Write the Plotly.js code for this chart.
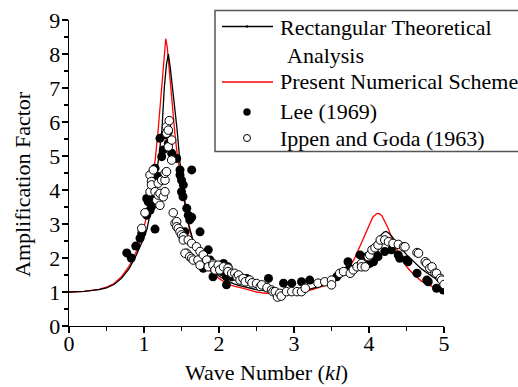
<!DOCTYPE html>
<html>
<head>
<meta charset="utf-8">
<script src="https://cdn.plot.ly/plotly-3.0.1.min.js"></script>
<style>html,body{margin:0;padding:0;background:#fff;overflow:hidden}</style>
</head>
<body>
<div id="chart" style="width:518px;height:387px"></div>
<script>
// ---- Data ----
const theoryX = [0,0.2,0.4,0.5,0.6,0.7,0.8,0.9,1.0,1.04,1.1,1.15,1.2,1.24,1.27,1.3,1.325,1.35,1.38,1.41,1.44,1.48,1.52,1.56,1.6,1.65,1.7,1.8,1.9,2.0,2.1,2.2,2.3,2.4,2.5,2.6,2.7,2.8,2.9,3.0,3.1,3.2,3.3,3.4,3.5,3.6,3.7,3.8,3.9,4.0,4.1,4.15,4.2,4.23,4.27,4.3,4.35,4.4,4.5,4.6,4.7,4.8,4.9,5.0];
const theoryY = [1.0,1.02,1.07,1.12,1.22,1.4,1.68,2.1,2.6,2.85,3.5,4.2,5.0,5.8,7.0,7.7,8.0,7.6,7.0,6.5,5.8,4.8,4.0,3.4,2.95,2.55,2.25,1.9,1.65,1.47,1.34,1.24,1.17,1.11,1.07,1.04,1.02,1.01,1.01,1.02,1.05,1.08,1.13,1.2,1.29,1.4,1.55,1.75,1.98,2.22,2.5,2.65,2.76,2.78,2.72,2.65,2.5,2.35,2.1,1.88,1.68,1.52,1.38,1.22];

const numX = [0,0.2,0.4,0.5,0.6,0.7,0.8,0.9,0.95,1.0,1.05,1.1,1.15,1.19,1.23,1.26,1.29,1.31,1.34,1.37,1.41,1.44,1.5,1.55,1.6,1.65,1.7,1.8,1.9,2.0,2.1,2.2,2.3,2.4,2.5,2.6,2.7,2.8,2.9,3.0,3.1,3.2,3.3,3.4,3.5,3.6,3.7,3.8,3.85,3.9,3.95,4.0,4.05,4.1,4.13,4.17,4.2,4.25,4.3,4.35,4.4,4.5,4.6,4.7,4.8,4.9,5.0];
const numY = [1.0,1.02,1.08,1.14,1.25,1.45,1.75,2.2,2.5,2.9,3.4,4.1,4.9,5.8,6.8,7.7,8.45,8.2,7.4,6.6,5.7,5.1,4.2,3.5,2.9,2.5,2.2,1.82,1.58,1.4,1.25,1.17,1.12,1.05,1.0,0.97,0.94,0.92,0.93,0.95,0.99,1.04,1.1,1.18,1.28,1.42,1.62,1.95,2.2,2.45,2.75,3.0,3.2,3.3,3.31,3.25,3.12,2.9,2.62,2.35,2.1,1.75,1.5,1.32,1.2,1.1,1.03];

const leeX = [0.77,0.83,0.89,0.947,0.97,1.036,1.036,1.057,1.08,1.10,1.08,1.147,1.147,1.17,1.19,1.213,1.236,1.257,1.28,1.324,1.324,1.369,1.436,1.48,1.48,1.50,1.524,1.50,1.52,1.57,1.59,1.61,1.636,1.636,1.547,1.747,1.857,1.88,1.90,1.79,1.92,2.04,2.06,2.12,2.10,2.17,2.10,2.37,2.66,2.86,2.97,3.10,3.21,3.57,3.72,3.74,3.88,3.97,4.01,4.06,4.10,4.12,4.21,4.30,4.39,4.41,4.50,4.52,4.64,4.77,4.79,4.90,4.99];
const leeY = [2.15,2.0,2.35,2.58,2.73,3.26,3.75,3.65,3.4,3.51,3.8,2.85,4.64,4.3,4.4,5.52,4.98,5.18,5.62,5.37,5.71,5.08,4.93,4.59,4.44,4.29,4.15,3.95,3.8,3.46,3.26,3.12,3.2,4.59,2.77,2.77,2.24,1.94,1.79,1.70,1.45,1.6,1.84,1.74,1.45,1.45,1.21,1.40,1.40,1.26,1.26,1.30,1.35,1.45,1.89,1.70,2.09,2.04,1.84,1.89,2.09,2.04,2.19,2.24,2.09,1.99,1.94,1.89,1.55,1.35,1.30,1.11,1.06];

const ippenX = [0.97,1.013,1.08,1.08,1.10,1.10,1.124,1.147,1.17,1.19,1.19,1.213,1.213,1.236,1.257,1.28,1.28,1.28,1.30,1.30,1.30,1.324,1.324,1.337,1.369,1.369,1.39,1.413,1.436,1.436,1.457,1.48,1.50,1.524,1.524,1.59,1.57,1.547,1.61,1.636,1.636,1.657,1.70,1.72,1.747,1.747,1.79,1.836,1.857,1.92,1.92,1.947,1.99,2.01,2.06,2.12,2.12,2.17,2.21,2.24,2.26,2.28,2.32,2.35,2.41,2.44,2.50,2.55,2.57,2.64,2.70,2.72,2.75,2.78,2.81,2.83,2.90,2.97,3.04,3.10,3.15,3.32,3.41,3.50,3.50,3.61,3.66,3.75,3.79,3.84,3.90,3.90,3.95,3.99,4.01,4.04,4.08,4.12,4.15,4.21,4.26,4.32,4.39,4.46,4.48,4.64,4.66,4.75,4.77,4.81,4.84,4.88,4.90,4.95,4.97,5.0];
const ippenY = [2.87,3.33,4.44,3.95,4.25,4.15,4.59,3.95,3.7,3.85,4.2,3.55,3.9,4.29,3.8,3.95,4.29,4.49,4.54,5.67,5.86,5.27,5.76,6.04,5.47,4.88,3.33,3.02,3.07,2.92,2.87,2.77,2.68,2.63,2.53,2.53,2.14,2.14,2.04,2.43,1.99,1.94,2.33,1.94,2.19,1.79,2.09,1.94,1.74,1.84,1.79,1.65,1.79,1.65,1.74,1.70,1.60,1.55,1.55,1.45,1.50,1.35,1.40,1.30,1.35,1.27,1.25,1.16,1.21,1.13,1.06,1.01,1.01,0.85,0.96,0.88,1.01,1.01,1.01,1.01,1.11,1.26,1.30,1.35,1.21,1.55,1.60,1.55,1.65,1.74,1.84,1.74,1.74,2.04,2.09,2.24,2.30,2.38,2.53,2.53,2.48,2.43,2.40,2.33,2.33,2.16,2.14,1.89,1.84,1.70,1.74,1.55,1.55,1.40,1.35,1.22];

const xTicks = [0,1,2,3,4,5];
const yTicks = [0,1,2,3,4,5,6,7,8,9];
const legendNames = ["Rectangular Theoretical", "Analysis", "Present Numerical Scheme", "Lee (1969)", "Ippen and Goda (1963)"];
const xTitle = "Wave Number (<i>kl</i>)";
const yTitle = "Amplification Factor";

// ---- Layout helpers (pixel -> paper) ----
const ML = 69, MR = 74, MT = 20, MB = 61, W = 518, H = 387;
const PW = W - ML - MR, PH = H - MT - MB;
const px = p => (p - ML) / PW;
const py = p => (H - MB - p) / PH;

const FONT = "Liberation Serif";

const traces = [
  {x: numX, y: numY, mode: 'lines', line: {color: '#ff0000', width: 1.3}, name: legendNames[2], hoverinfo: 'skip'},
  {x: theoryX, y: theoryY, mode: 'lines', line: {color: '#000000', width: 1.3}, name: legendNames[0], hoverinfo: 'skip'},
  {x: leeX, y: leeY, mode: 'markers', marker: {symbol: 'circle', size: 9, color: '#000000', line: {width: 0}}, name: legendNames[3], hoverinfo: 'skip'},
  {x: ippenX, y: ippenY, mode: 'markers', marker: {symbol: 'circle', size: 8.5, color: '#ffffff', line: {color: '#000000', width: 1}}, name: legendNames[4], hoverinfo: 'skip'}
];

const shapes = [
  {type: 'rect', xref: 'paper', yref: 'paper', x0: px(215), x1: px(560), y0: py(151.5), y1: py(10.5), line: {color: '#555555', width: 1.5}, fillcolor: 'rgba(0,0,0,0)'},
  {type: 'line', xref: 'paper', yref: 'paper', x0: px(222), x1: px(273), y0: py(26.5), y1: py(26.5), line: {color: '#000000', width: 1.3}},
  {type: 'circle', xref: 'paper', yref: 'paper', x0: px(246), x1: px(248), y0: py(27.5), y1: py(25.5), line: {color: '#000000', width: 0.5}, fillcolor: '#000000'},
  {type: 'line', xref: 'paper', yref: 'paper', x0: px(222), x1: px(273), y0: py(82), y1: py(82), line: {color: '#ff0000', width: 1.3}},
  {type: 'circle', xref: 'paper', yref: 'paper', x0: px(243.5), x1: px(250.5), y0: py(115.5), y1: py(108.5), line: {color: '#000000', width: 0.5}, fillcolor: '#000000'},
  {type: 'circle', xref: 'paper', yref: 'paper', x0: px(243.5), x1: px(250.5), y0: py(141.5), y1: py(134.5), line: {color: '#000000', width: 1}, fillcolor: '#ffffff'}
];

const legRows = [[278, 27], [285, 55], [278, 82], [278, 111], [278, 138]];
const annotations = legendNames.map((t, i) => ({
  text: t, xref: 'paper', yref: 'paper', x: px(legRows[i][0]), y: py(legRows[i][1]),
  xanchor: 'left', yanchor: 'middle', showarrow: false,
  font: {family: FONT, size: 22, color: '#000'}
}));
// axis titles
annotations.push({text: xTitle, xref: 'paper', yref: 'paper', x: px(266), y: py(372), xanchor: 'center', yanchor: 'middle', showarrow: false, font: {family: FONT, size: 22, color: '#000'}});
annotations.push({text: yTitle, xref: 'paper', yref: 'paper', x: px(22), y: py(184), xanchor: 'center', yanchor: 'middle', textangle: -90, showarrow: false, font: {family: FONT, size: 22, color: '#000'}});

const axisCommon = {
  showgrid: false, zeroline: false, showline: true, linecolor: '#000', linewidth: 1.3,
  ticks: 'outside', ticklen: 6, tickwidth: 1.2, tickcolor: '#000',
  tickfont: {family: FONT, size: 22, color: '#000'},
  minor: {ticks: 'outside', ticklen: 3.5, tickwidth: 1.2, tickcolor: '#000'}
};

const layout = {
  width: W, height: H,
  margin: {l: ML, r: MR, t: MT, b: MB, pad: 0},
  paper_bgcolor: '#fff', plot_bgcolor: '#fff',
  showlegend: false,
  font: {family: FONT, color: '#000', size: 22},
  xaxis: Object.assign({}, axisCommon, {
    range: [0, 5], tickvals: xTicks, ticktext: xTicks.map(String),
    ticklabelstandoff: -9,
    minor: Object.assign({}, axisCommon.minor, {dtick: 0.5})
  }),
  yaxis: Object.assign({}, axisCommon, {
    range: [0, 9], tickvals: yTicks, ticktext: yTicks.map(String),
    ticklabelstandoff: -3,
    minor: Object.assign({}, axisCommon.minor, {dtick: 0.5})
  }),
  shapes: shapes,
  annotations: annotations
};

Plotly.newPlot('chart', traces, layout, {staticPlot: true, displayModeBar: false});
</script>
</body>
</html>
